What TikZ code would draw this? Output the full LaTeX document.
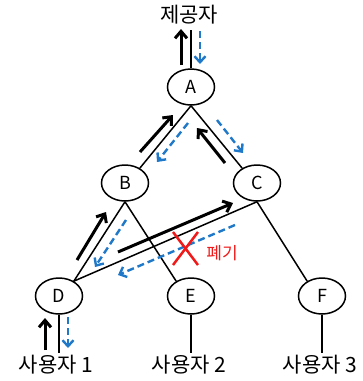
\documentclass[tikz,border=0pt]{standalone}
\usepackage{fontspec}
\setmainfont{Noto Sans CJK KR}
\usetikzlibrary{arrows.meta,shapes.geometric}
\definecolor{flowblue}{HTML}{1F78C8}
\definecolor{dropred}{HTML}{F01818}
\tikzset{
  router/.style={draw, line width=1.5pt, ellipse, minimum width=47pt, minimum height=36pt, inner sep=0pt, font=\fontsize{18}{18}\selectfont},
  link/.style={line width=1.5pt},
  upflow/.style={line width=3pt, -{Straight Barb[length=7pt,width=12pt,line width=3pt]}},
  downflow/.style={line width=2.4pt, flowblue, dash pattern=on 7pt off 4pt, -{Straight Barb[length=6pt,width=11pt,line width=2.4pt]}},
  lbl/.style={font=\fontsize{21}{21}\selectfont}
}
\begin{document}
\begin{tikzpicture}[x=1pt,y=-1pt]
\useasboundingbox (0,0) rectangle (363,381);
\node[router] (A) at (191,87) {A};
\node[router] (B) at (125,183) {B};
\node[router] (C) at (257,183) {C};
\node[router] (D) at (59,296) {D};
\node[router] (E) at (191,296) {E};
\node[router] (F) at (322,296) {F};
\node[lbl] (prov) at (189,15) {제공자};
\node[lbl] (u1) at (56,365) {사용자 1};
\node[lbl] (u2) at (189,365) {사용자 2};
\node[lbl] (u3) at (320,365) {사용자 3};
\coordinate (ptop) at (191,30);
\coordinate (d1) at (59,353);
\coordinate (e1) at (191,353);
\coordinate (f1) at (322,353);
\draw[link] (A.north) -- (ptop);
\draw[link] (A.south) -- (B.45);
\draw[link] (A.south) -- (C.135);
\draw[link] (B.south) -- (D.45);
\draw[link] (B.south) -- (E.135);
\draw[link] (C.south) -- (D.45);
\draw[link] (C.south) -- (F.135);
\draw[link] (D.south) -- (d1);
\draw[link] (E.south) -- (e1);
\draw[link] (F.south) -- (f1);
% flows
\coordinate (pa0) at (181,65); \coordinate (pa1) at (181,29);
\coordinate (pb0) at (200,31); \coordinate (pb1) at (200,64);
\draw[upflow] (pa0) -- (pa1);
\draw[downflow] (pb0) -- (pb1);
\coordinate (ba0) at (140,152); \coordinate (ba1) at (173,115);
\coordinate (ab0) at (188,123); \coordinate (ab1) at (157,162);
\draw[upflow] (ba0) -- (ba1);
\draw[downflow] (ab0) -- (ab1);
\coordinate (ca0) at (225,163); \coordinate (ca1) at (197,128);
\coordinate (ac0) at (217,120); \coordinate (ac1) at (243,153);
\draw[upflow] (ca0) -- (ca1);
\draw[downflow] (ac0) -- (ac1);
\coordinate (db0) at (77,260); \coordinate (db1) at (106,212);
\coordinate (bd0) at (126,220); \coordinate (bd1) at (95,267);
\draw[upflow] (db0) -- (db1);
\draw[downflow] (bd0) -- (bd1);
\coordinate (dc0) at (118,252); \coordinate (dc1) at (233,203);
\coordinate (cd0) at (235,225); \coordinate (cd1) at (118,275);
\draw[upflow] (dc0) -- (dc1);
\draw[downflow] (cd0) -- (cd1);
\coordinate (ud0) at (45,350); \coordinate (ud1) at (45,318);
\coordinate (du0) at (68,317); \coordinate (du1) at (68,348);
\draw[upflow] (ud0) -- (ud1);
\draw[downflow] (du0) -- (du1);
% drop mark
\coordinate (x1) at (173,232); \coordinate (x2) at (198,265);
\coordinate (x3) at (198,232); \coordinate (x4) at (173,265);
\draw[dropred, line width=2.5pt] (x1) -- (x2);
\draw[dropred, line width=2.5pt] (x3) -- (x4);
\node[dropred, font=\fontsize{17}{17}\selectfont] (drop) at (222,253) {폐기};
\end{tikzpicture}
\end{document}
